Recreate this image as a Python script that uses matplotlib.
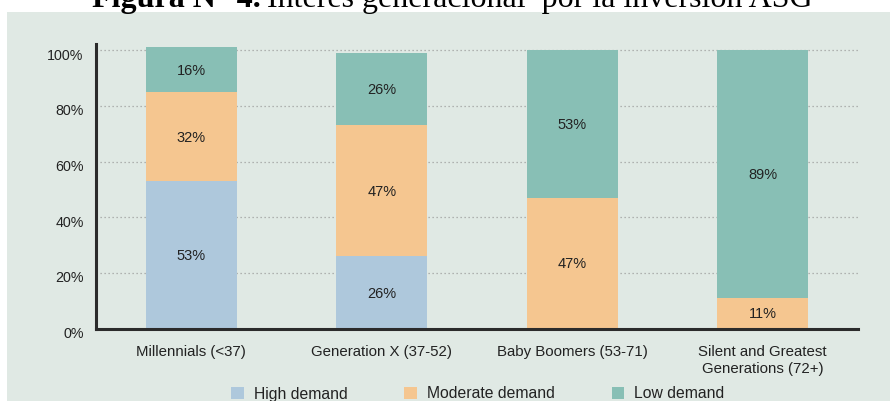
import matplotlib.pyplot as plt
from matplotlib.patches import Rectangle
from matplotlib.transforms import ScaledTranslation

plt.rcParams['font.family'] = ['Liberation Sans', 'DejaVu Sans']

# datos
generaciones = ["Millennials (<37)", "Generation X (37-52)", "Baby Boomers (53-71)",
                "Silent and Greatest\nGenerations (72+)"]
high = [53, 26, 0, 0]
moderate = [32, 47, 47, 11]
low = [16, 26, 53, 89]
series = ["High demand", "Moderate demand", "Low demand"]
colores = ["#aec8dc", "#f5c690", "#88bfb5"]
yticks = [0, 20, 40, 60, 80, 100]

fig = plt.figure(figsize=(8.9, 4.01), dpi=100)
fig.patch.set_facecolor("white")

# panel de fondo
fig.patches.append(Rectangle((7 / 890, 0), 1, 1 - 12 / 401, transform=fig.transFigure,
                             facecolor="#e0e9e4", edgecolor="none", zorder=-5))

# titulo cortado arriba
t1 = fig.text(92 / 890, 1 - 7 / 401, "Figura N° 4.", fontsize=23, family="Liberation Serif",
              fontweight="bold", ha="left", va="baseline", zorder=-1)
fig.canvas.draw()
bb = t1.get_window_extent()
fig.text((bb.x1 + 6) / 890, 1 - 7 / 401, "Interés generacional  por la inversión ASG",
         fontsize=23, family="Liberation Serif", ha="left", va="baseline", zorder=-1)

ax = fig.add_axes([96 / 890, 72.3 / 401, 762 / 890, 284.7 / 401])
ax.set_facecolor("none")

x = range(len(generaciones))
w = 0.477
bottom2 = [a + b for a, b in zip(high, moderate)]
valores = [high, moderate, low]
bases = [[0] * 4, high, bottom2]
for vals, base, c, nombre in zip(valores, bases, colores, series):
    bars = ax.bar(x, vals, w, bottom=base, color=c, label=nombre, zorder=2)
    for rect, v in zip(bars, vals):
        if v > 0:
            ax.text(rect.get_x() + rect.get_width() / 2, rect.get_y() + v / 2 - 0.4, f"{v}%",
                    ha="center", va="center", fontsize=10.5, color="#222222", zorder=3)

ax.set_xlim(-0.5, 3.5)
ax.set_ylim(0, 102.2)
ax.set_yticks(yticks)
ax.set_yticklabels([f"{v}%" for v in yticks], fontsize=10.3, color="#222222")
ax.set_xticks(list(x))
ax.set_xticklabels(generaciones, fontsize=10.8, color="#222222", linespacing=1.25)
ax.tick_params(axis="both", length=0)
ax.tick_params(axis="y", pad=9)
ax.tick_params(axis="x", pad=12)
desplaza = ScaledTranslation(0, -4 / 100, fig.dpi_scale_trans)
for lab in ax.get_yticklabels():
    lab.set_transform(lab.get_transform() + desplaza)

for v in yticks[1:]:
    ax.axhline(v, color="#a0a0a0", linestyle=(0, (1, 2.2)), linewidth=0.9, zorder=1)

for s in ["top", "right"]:
    ax.spines[s].set_visible(False)
for s in ["left", "bottom"]:
    ax.spines[s].set_linewidth(2.2)
    ax.spines[s].set_color("#2b2b2b")

fig.legend(loc="center", bbox_to_anchor=(478 / 890, 1 - 394 / 401), ncol=3, frameon=False,
           fontsize=11.3, handlelength=0.8, handleheight=0.8, handletextpad=0.65,
           columnspacing=3.6, labelcolor="#222222")

fig.savefig("out.png", dpi=100)
